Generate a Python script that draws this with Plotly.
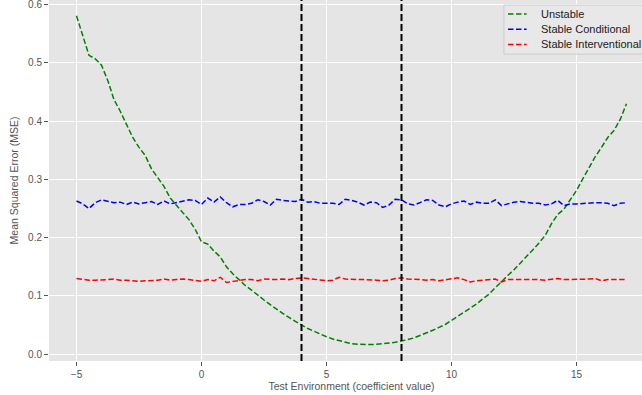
import plotly.graph_objects as go

# Test environment coefficient values
x_env = [-5.0, -4.75, -4.5, -4.25, -4.0, -3.75, -3.5, -3.25, -3.0, -2.75, -2.5, -2.25,
         -2.0, -1.75, -1.5, -1.25, -1.0, -0.75, -0.5, -0.25, 0.0, 0.25, 0.5, 0.75,
         1.0, 1.25, 1.5, 1.75, 2.0, 2.25, 2.5, 2.75, 3.0, 3.25, 3.5, 3.75,
         4.0, 4.25, 4.5, 4.75, 5.0, 5.25, 5.5, 5.75, 6.0, 6.25, 6.5, 6.75,
         7.0, 7.25, 7.5, 7.75, 8.0, 8.25, 8.5, 8.75, 9.0, 9.25, 9.5, 9.75,
         10.0, 10.25, 10.5, 10.75, 11.0, 11.25, 11.5, 11.75, 12.0, 12.25, 12.5, 12.75,
         13.0, 13.25, 13.5, 13.75, 14.0, 14.25, 14.5, 14.75, 15.0, 15.25, 15.5, 15.75,
         16.0, 16.25, 16.5, 16.75, 17.0]

mse_unstable = [0.581, 0.545, 0.513, 0.507, 0.496, 0.470, 0.437, 0.417, 0.394, 0.372, 0.355, 0.341,
                0.318, 0.303, 0.288, 0.268, 0.255, 0.243, 0.231, 0.214, 0.193, 0.189, 0.177, 0.167,
                0.150, 0.138, 0.128, 0.118, 0.110, 0.101, 0.093, 0.085, 0.077, 0.070, 0.063, 0.056,
                0.050, 0.044, 0.039, 0.034, 0.030, 0.026, 0.023, 0.020, 0.018, 0.017, 0.0165, 0.0165,
                0.017, 0.0175, 0.019, 0.0205, 0.0225, 0.025, 0.028, 0.032, 0.036, 0.041, 0.046, 0.051,
                0.058, 0.065, 0.072, 0.079, 0.086, 0.095, 0.103, 0.114, 0.125, 0.135, 0.145, 0.156,
                0.167, 0.179, 0.191, 0.204, 0.224, 0.240, 0.249, 0.264, 0.281, 0.301, 0.320, 0.339,
                0.355, 0.372, 0.384, 0.403, 0.430]

mse_stable_cond = [0.263, 0.258, 0.250, 0.260, 0.265, 0.262, 0.260, 0.261, 0.257, 0.261, 0.258, 0.260,
                   0.262, 0.257, 0.263, 0.258, 0.260, 0.262, 0.265, 0.264, 0.257, 0.268, 0.261, 0.270,
                   0.260, 0.253, 0.257, 0.257, 0.259, 0.265, 0.262, 0.256, 0.266, 0.264, 0.263, 0.262,
                   0.266, 0.261, 0.262, 0.259, 0.259, 0.259, 0.257, 0.266, 0.264, 0.261, 0.256, 0.261,
                   0.260, 0.252, 0.256, 0.266, 0.265, 0.258, 0.256, 0.260, 0.265, 0.264, 0.256, 0.253,
                   0.258, 0.261, 0.263, 0.257, 0.261, 0.259, 0.259, 0.265, 0.255, 0.258, 0.261, 0.262,
                   0.260, 0.259, 0.259, 0.256, 0.258, 0.264, 0.255, 0.258, 0.258, 0.259, 0.259, 0.260,
                   0.260, 0.259, 0.255, 0.259, 0.260]

mse_stable_int = [0.130, 0.128, 0.127, 0.127, 0.127, 0.128, 0.129, 0.127, 0.127, 0.126, 0.125, 0.126,
                  0.126, 0.127, 0.129, 0.127, 0.128, 0.129, 0.128, 0.127, 0.125, 0.128, 0.126, 0.132,
                  0.123, 0.125, 0.127, 0.128, 0.128, 0.126, 0.129, 0.128, 0.128, 0.129, 0.128, 0.130,
                  0.131, 0.130, 0.129, 0.127, 0.126, 0.127, 0.132, 0.129, 0.128, 0.128, 0.128, 0.128,
                  0.127, 0.126, 0.127, 0.130, 0.131, 0.129, 0.129, 0.128, 0.127, 0.128, 0.126, 0.128,
                  0.129, 0.131, 0.128, 0.124, 0.126, 0.127, 0.128, 0.129, 0.124, 0.128, 0.128, 0.128,
                  0.128, 0.129, 0.128, 0.127, 0.128, 0.130, 0.128, 0.128, 0.129, 0.128, 0.129, 0.130,
                  0.126, 0.128, 0.128, 0.128, 0.128]

series_names = ["Unstable", "Stable Conditional", "Stable Interventional"]
series_colors = ["green", "blue", "red"]
train_bounds = [4, 8]
x_ticks = [-5, 0, 5, 10, 15]
x_tick_text = ["\u22125", "0", "5", "10", "15"]
y_ticks = [0.0, 0.1, 0.2, 0.3, 0.4, 0.5, 0.6]

FONT = "Liberation Sans, Arial, sans-serif"
DASH = "5.5px,2.5px"

fig = go.Figure()
for name, vals, col in zip(series_names, [mse_unstable, mse_stable_cond, mse_stable_int], series_colors):
    fig.add_trace(go.Scatter(x=x_env, y=vals, mode="lines", name=name,
                             line=dict(color=col, width=1.5, dash=DASH)))

for b in train_bounds:
    fig.add_vline(x=b, line=dict(color="black", width=2, dash="7px,3px"), layer="above")

# Legend box (drawn by hand so it may run to the right edge like the original)
fig.add_shape(type="rect", xref="paper", yref="paper", x0=0.752, x1=1.004, y0=0.850, y1=0.986,
              fillcolor="rgba(233,233,233,0.85)", line=dict(color="#CCCCCC", width=1), layer="above")
leg_y = [0.961, 0.919, 0.877]
for name, col, yy in zip(series_names, series_colors, leg_y):
    fig.add_shape(type="line", xref="paper", yref="paper", x0=0.7587, x1=0.7895, y0=yy, y1=yy,
                  line=dict(color=col, width=1.5, dash=DASH), layer="above")
    fig.add_annotation(xref="paper", yref="paper", x=0.8095, y=yy, text=name, showarrow=False,
                       xanchor="left", yanchor="middle",
                       font=dict(family=FONT, size=11, color="#1a1a1a"))

fig.update_layout(
    width=660, height=395,
    margin=dict(l=49, r=6, t=0, b=34),
    paper_bgcolor="white",
    plot_bgcolor="#E5E5E5",
    font=dict(family=FONT, size=10, color="#555555"),
    showlegend=False,
)
fig.update_xaxes(range=[-6.1, 18.1], tickvals=x_ticks, ticktext=x_tick_text,
                 showgrid=True, gridcolor="white", gridwidth=1, zeroline=False,
                 ticks="outside", ticklen=4, tickcolor="#555555", tickwidth=1,
                 tickfont=dict(size=10, color="#555555"), showline=False,
                 title=dict(text="Test Environment (coefficient value)", standoff=3,
                            font=dict(size=10.5, color="#555555")))
fig.update_yaxes(range=[-0.0117, 0.608], tickvals=y_ticks, tickformat=".1f",
                 showgrid=True, gridcolor="white", gridwidth=1, zeroline=False,
                 ticks="outside", ticklen=4, tickcolor="#555555", tickwidth=1,
                 tickfont=dict(size=10, color="#555555"), showline=False,
                 ticklabeloverflow="allow",
                 title=dict(text="Mean Squared Error (MSE)", standoff=7,
                            font=dict(size=10.5, color="#555555")))

fig.write_html("out.html", config={"displayModeBar": False},
               post_script="document.body.style.margin='0';document.body.style.overflow='hidden';")
